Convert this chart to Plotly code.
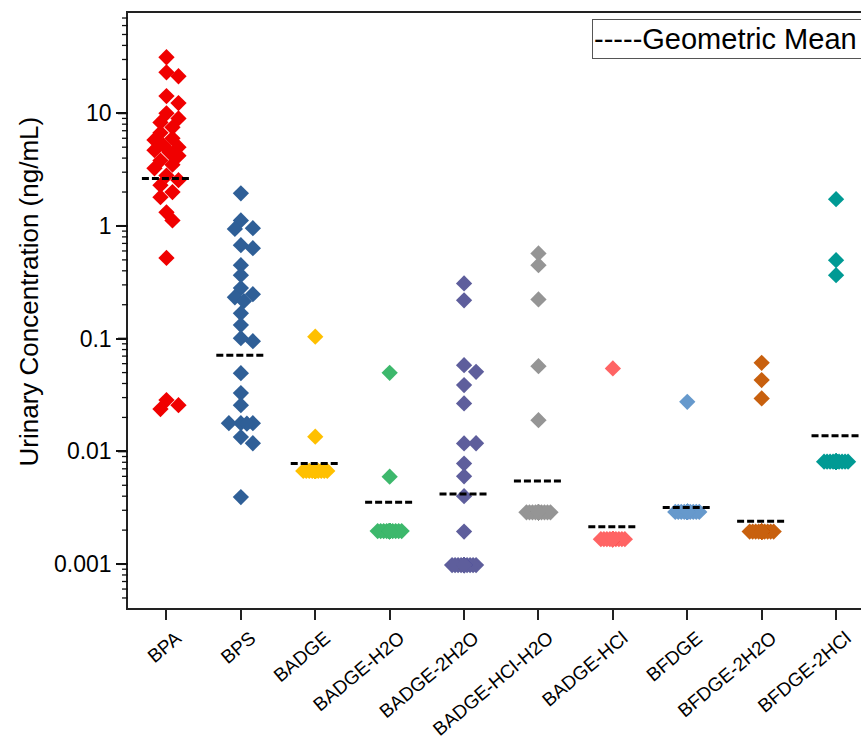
import math
import plotly.graph_objects as go

categories = ["BPA", "BPS", "BADGE", "BADGE-H2O", "BADGE-2H2O", "BADGE-HCl-H2O",
              "BADGE-HCl", "BFDGE", "BFDGE-2H2O", "BFDGE-2HCl"]

bpa = [31.4, 23.1, 21.3, 14.2, 12.3, 10.0, 9.0, 8.3, 7.5, 6.7, 6.0, 5.8, 5.2, 5.0,
       4.7, 4.5, 4.2, 3.8, 3.5, 3.25, 2.8, 2.55, 2.3, 2.0, 1.8, 1.32, 1.12, 0.52,
       0.0285, 0.0257, 0.0237]
bps = [1.95, 1.12, 0.955, 0.94, 0.675, 0.635, 0.449, 0.366, 0.281, 0.248, 0.233,
       0.215, 0.168, 0.132, 0.101, 0.095, 0.0494, 0.0329, 0.0257, 0.0178, 0.0178,
       0.0178, 0.0176, 0.0134, 0.0118, 0.00393]
badge = [0.104, 0.0135] + [0.0067] * 24
badge_h2o = [0.0498, 0.00596] + [0.00196] * 24
badge_2h2o = [0.309, 0.219, 0.0582, 0.0508, 0.0387, 0.0266, 0.01175, 0.0118,
              0.0078, 0.006, 0.004, 0.00194] + [0.00098] * 16
badge_hcl_h2o = [0.57, 0.449, 0.223, 0.057, 0.0189] + [0.00288] * 22
badge_hcl = [0.0544] + [0.00166] * 26
bfdge = [0.0275] + [0.0029] * 26
bfdge_2h2o = [0.0611, 0.0429, 0.0295] + [0.00194] * 24
bfdge_2hcl = [1.73, 0.497, 0.366] + [0.0081] * 24

series = [bpa, bps, badge, badge_h2o, badge_2h2o, badge_hcl_h2o,
          badge_hcl, bfdge, bfdge_2h2o, bfdge_2hcl]

geo_mean = [2.64, 0.0714, 0.0078, 0.00353, 0.00418, 0.00545,
            0.00214, 0.00318, 0.0024, 0.01374]

decades = [0.0001, 0.001, 0.01, 0.1, 1, 10]
tick_digits = [1, 2, 3, 4, 5, 6, 7, 8, 9]

colors = ["#F00000", "#2F5F97", "#FFC000", "#3DB86C", "#5E5E9C", "#959595",
          "#FF6464", "#6699CC", "#C8600E", "#009A94"]

PX_PER_DEC = 112.75
PX_PER_CAT = 74.4
PLOT_W = 733


def swarm(vals):
    placed = []
    offs = []
    cands = [0, 6, -6, 12, -12, 3, -3, 9, -9]
    for v in vals:
        y = math.log10(v) * PX_PER_DEC
        best, bestd = 0, -1.0
        for c in cands:
            d = min((math.hypot(c - px, y - py) for px, py in placed), default=1e9)
            if d >= 10:
                best = c
                break
            if d > bestd:
                bestd, best = d, c
        placed.append((best, y))
        offs.append(best / PX_PER_CAT)
    return offs


fig = go.Figure()
for i, vals in enumerate(series):
    offs = swarm(vals)
    fig.add_trace(go.Scatter(
        x=[i + o for o in offs], y=vals, mode="markers",
        marker=dict(symbol="diamond", size=12.5, color=colors[i],
                    line=dict(width=0)),
        showlegend=False, hoverinfo="skip"))

for i, m in enumerate(geo_mean):
    fig.add_trace(go.Scatter(
        x=[i - 0.33, i + 0.33], y=[m, m], mode="lines",
        line=dict(color="black", width=3, dash="7px,3px"),
        showlegend=False, hoverinfo="skip"))

FONT = "Liberation Sans, Arial, sans-serif"
YRANGE = [-3.39, 1.8896]

# y-axis major/minor tick marks drawn in the left margin
tick_shapes = []
for d in decades:
    for k in tick_digits:
        lv = math.log10(d * k)
        if YRANGE[0] <= lv <= YRANGE[1]:
            py = (lv - YRANGE[0]) / (YRANGE[1] - YRANGE[0])
            ln, w = (10, 2) if k == 1 else (6, 1.3)
            tick_shapes.append(dict(
                type="line", xref="paper", yref="paper", layer="above",
                x0=-ln / PLOT_W, x1=0, y0=py, y1=py,
                line=dict(color="#111", width=w)))

fig.update_layout(
    width=861, height=745,
    margin=dict(l=128, r=0, t=13, b=137),
    plot_bgcolor="white", paper_bgcolor="white",
    font=dict(family=FONT, color="black"),
    xaxis=dict(
        range=[-0.517, 9.335], tickmode="array",
        tickvals=list(range(len(categories))), ticktext=categories,
        tickangle=-40, tickfont=dict(size=19, family=FONT),
        ticklabelshift=10,
        ticks="outside", ticklen=10, tickwidth=1.5, tickcolor="#222",
        showline=True, linecolor="#222", linewidth=1.5, mirror=True,
        showgrid=False, zeroline=False, automargin=False),
    yaxis=dict(
        type="log", range=YRANGE, tickmode="linear", tick0=0, dtick=1,
        tickfont=dict(size=23, family=FONT),
        ticks="outside", ticklen=10, tickwidth=2, tickcolor="#111",
        showline=True, linecolor="#222", linewidth=1.5, mirror=False,
        showgrid=False, zeroline=False, automargin=False),
    shapes=tick_shapes,
    annotations=[
        dict(text="Urinary Concentration (ng/mL)", xref="paper", yref="paper",
             x=(28 - 128) / PLOT_W, y=(608 - 291.5) / 595, textangle=-90,
             showarrow=False, font=dict(size=26, family=FONT),
             xanchor="center", yanchor="middle"),
        dict(text="-----Geometric Mean", xref="paper", yref="paper",
             x=(592 - 128) / PLOT_W, y=(608 - 19) / 595, xanchor="left",
             yanchor="top", showarrow=False, align="left",
             width=300, height=36, borderpad=1,
             bordercolor="#555", borderwidth=1, bgcolor="white",
             font=dict(size=29, family=FONT)),
    ],
)

fig.write_html("out.html")
